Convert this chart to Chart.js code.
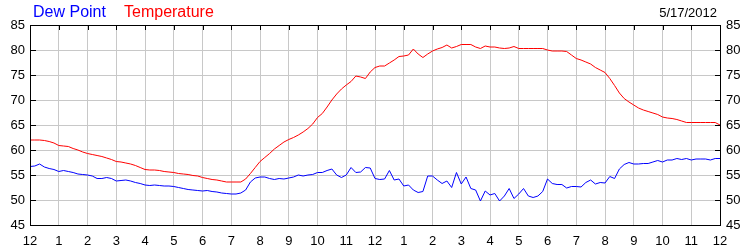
<!DOCTYPE html>
<html>
<head>
<meta charset="utf-8">
<script src="https://cdn.jsdelivr.net/npm/chart.js@4/dist/chart.umd.min.js"></script>
<style>
body{margin:0;background:#fff;}
</style>
</head>
<body>
<canvas id="wxChart" width="750" height="250"></canvas>
<script>
// hour labels along the bottom (midnight to midnight)
const hourLabels = ["12","1","2","3","4","5","6","7","8","9","10","11","12","1","2","3","4","5","6","7","8","9","10","11","12"];

// readings every 10 minutes, degrees F
const stepMinutes = 10;

const temperature = [
62.0,62.0,62.0,61.9,61.7,61.4,
60.9,60.8,60.7,60.3,60.0,59.6,
59.3,59.1,58.9,58.7,58.4,58.1,
57.7,57.6,57.4,57.2,56.9,56.5,
56.1,56.0,56.0,55.9,55.7,55.6,
55.5,55.3,55.2,55.1,54.9,54.8,
54.5,54.3,54.1,54.0,53.8,53.6,
53.6,53.6,53.6,54.2,55.3,56.5,
57.7,58.5,59.3,60.2,60.9,61.6,
62.1,62.5,63.0,63.6,64.3,65.2,
66.5,67.3,68.6,70.0,71.2,72.2,
73.0,73.7,74.8,74.6,74.3,75.6,
76.5,76.8,76.8,77.4,78.0,78.7,
78.8,79.0,80.2,79.2,78.5,79.2,
79.8,80.2,80.5,81.0,80.4,80.7,
81.1,81.1,81.1,80.6,80.3,80.8,
80.6,80.6,80.4,80.3,80.4,80.7,
80.3,80.3,80.3,80.3,80.3,80.3,
80.0,79.8,79.8,79.8,79.7,79.0,
78.3,78.0,77.6,77.2,76.5,76.0,
75.5,74.3,72.9,71.4,70.3,69.6,
69.0,68.4,68.0,67.7,67.4,67.1,
66.6,66.4,66.3,66.1,65.8,65.5,
65.5,65.5,65.5,65.5,65.5,65.5,
65.0
];

const dewPoint = [
56.7,56.8,57.2,56.6,56.3,56.1,
55.7,55.9,55.7,55.5,55.2,55.1,
55.0,54.8,54.3,54.3,54.5,54.3,
53.8,53.9,54.0,53.8,53.5,53.3,
53.0,52.9,53.0,52.9,52.8,52.8,
52.7,52.5,52.3,52.1,52.0,51.9,
51.8,51.9,51.7,51.6,51.4,51.3,
51.2,51.2,51.4,52.0,53.6,54.4,
54.6,54.6,54.3,54.1,54.3,54.2,
54.4,54.6,55.0,54.8,55.0,55.1,
55.5,55.5,55.9,56.2,55.0,54.5,
55.0,56.5,55.5,55.6,56.5,56.4,
54.3,54.1,54.2,55.9,54.0,54.2,
52.8,53.0,52.0,51.5,51.7,54.8,
54.8,54.0,53.3,53.8,52.5,55.5,
53.2,54.6,52.3,52.0,49.8,51.8,
51.0,51.3,49.8,50.8,52.3,50.3,
51.2,52.3,50.8,50.5,50.8,51.7,
54.2,53.3,53.1,53.1,52.4,52.7,
52.7,52.6,53.5,54.0,53.2,53.5,
53.4,54.7,54.3,56.2,57.1,57.5,
57.2,57.2,57.3,57.3,57.6,57.9,
57.6,58.0,58.0,58.3,58.1,58.3,
58.0,58.2,58.2,58.2,58.0,58.3,
58.3
];

const dateText = "5/17/2012";

const toPoints = arr => arr.map((v, i) => ({x: i * stepMinutes / 60, y: v}));

const FONT = '"Liberation Sans", Arial, sans-serif';

// black frame, inward tick marks and the header texts
const framePlugin = {
  id: "frame",
  afterDraw(chart) {
    const ctx = chart.ctx;
    const a = chart.chartArea;
    const sx = chart.scales.x, sy = chart.scales.y;
    ctx.save();
    ctx.strokeStyle = "#000";
    ctx.lineWidth = 1;
    ctx.strokeRect(a.left + 0.5, a.top + 0.5, a.right - a.left, a.bottom - a.top);
    ctx.beginPath();
    sx.ticks.forEach(t => {
      const x = Math.round(sx.getPixelForValue(t.value)) + 0.5;
      ctx.moveTo(x, a.top);
      ctx.lineTo(x, a.top + 5);
    });
    sy.ticks.forEach(t => {
      const y = Math.round(sy.getPixelForValue(t.value)) + 0.5;
      ctx.moveTo(a.left, y);
      ctx.lineTo(a.left + 6, y);
      ctx.moveTo(a.right - 5, y);
      ctx.lineTo(a.right + 1, y);
    });
    ctx.stroke();

    ctx.textBaseline = "alphabetic";
    ctx.font = "16px " + FONT;
    ctx.textAlign = "left";
    ctx.fillStyle = "#0000ff";
    ctx.fillText("Dew Point", 33, 17);
    ctx.fillStyle = "#ff0000";
    ctx.fillText("Temperature", 124, 17);
    ctx.font = "13px " + FONT;
    ctx.fillStyle = "#000";
    ctx.textAlign = "right";
    ctx.fillText(dateText, 717, 17);
    ctx.restore();
  }
};

new Chart(
document.getElementById("wxChart"),
{
type: "line",
data: {
datasets: [
{
label: "Dew Point",
data: toPoints(dewPoint),
borderColor: "#0000ff",
borderWidth: 1,
pointRadius: 0,
tension: 0
},
{
label: "Temperature",
data: toPoints(temperature),
borderColor: "#ff0000",
borderWidth: 1,
pointRadius: 0,
tension: 0
}
]
},
options: {
responsive: false,
animation: false,
events: [],
layout: {padding: {top: 25, left: 0, right: 0, bottom: 0}},
plugins: {legend: {display: false}, tooltip: {enabled: false}},
scales: {
x: {
type: "linear",
min: 0,
max: 24,
afterFit(s) { s.height = 25; },
grid: {color: "#c8c8c8", drawTicks: false},
border: {display: false},
ticks: {
stepSize: 1,
autoSkip: false,
maxRotation: 0,
padding: 9,
color: "#000",
font: {family: FONT, size: 13},
callback: v => hourLabels[v]
}
},
y: {
position: "left",
min: 45,
max: 85,
afterFit(s) { s.width = 30; },
grid: {color: "#c8c8c8", drawTicks: false},
border: {display: false},
ticks: {stepSize: 5, padding: 5, color: "#000", font: {family: FONT, size: 13}}
},
y2: {
position: "right",
min: 45,
max: 85,
afterFit(s) { s.width = 30; },
grid: {drawOnChartArea: false, drawTicks: false},
border: {display: false},
ticks: {stepSize: 5, padding: 6, color: "#000", font: {family: FONT, size: 13}}
}
}
},
plugins: [framePlugin]
}
);
</script>
</body>
</html>
